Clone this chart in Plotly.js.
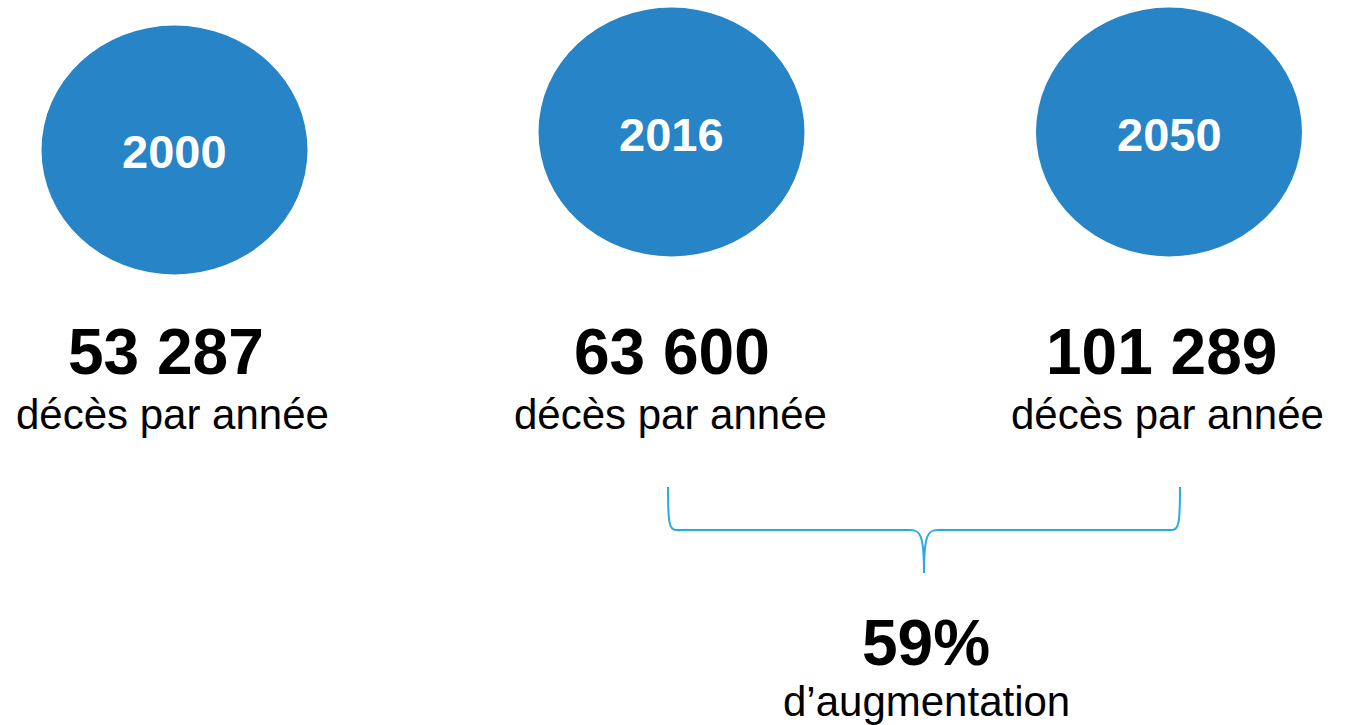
<!DOCTYPE html>
<html>
<head>
<meta charset="utf-8">
<script src="https://cdn.plot.ly/plotly-3.0.1.min.js"></script>
<style>
  html, body { margin: 0; padding: 0; background: #ffffff; }
  #chart { width: 1348px; height: 725px; }
</style>
</head>
<body>
<div id="chart"></div>
<script>
// ---- data ----
const years = ['2000', '2016', '2050'];
const deaths = [53287, 63600, 101289];
const unitLabel = 'décès par année';
const increasePct = 59;
const increaseLabel = 'd\u2019augmentation';

// ---- layout constants (positions in pixel space) ----
const W = 1348, H = 725;
const circleX = [174.5, 671.5, 1169];
const circleY = [150, 132, 132];
const rx = 133, ry = 124.5;
const yearTextY = [151, 134, 134];
const numX = [166, 672, 1161];
const subX = [172, 670, 1167];
const numY = 352, subY = 414;
const braceL = 668, braceR = 1180, braceTop = 487, braceMid = 530, braceTip = 573;
const pctY = 643, pctSubY = 701, pctX = 926;

const FONT = 'Liberation Sans, Arial, Helvetica, sans-serif';
const BLUE = '#2784C7';
const BRACE = '#29ABE2';

function fmt(n) {
  return String(n).replace(/\B(?=(\d{3})+(?!\d))/g, ' ');
}

const shapes = [];
const annotations = [];

years.forEach((yr, i) => {
  shapes.push({
    type: 'circle', xref: 'x', yref: 'y',
    x0: circleX[i] - rx, x1: circleX[i] + rx,
    y0: circleY[i] - ry, y1: circleY[i] + ry,
    fillcolor: BLUE, line: { width: 0 }, layer: 'below'
  });
  annotations.push({
    x: circleX[i], y: yearTextY[i], xref: 'x', yref: 'y',
    text: '<b>' + yr + '</b>', showarrow: false,
    xanchor: 'center', yanchor: 'middle',
    font: { family: FONT, size: 47, color: '#ffffff' }
  });
  annotations.push({
    x: numX[i], y: numY, xref: 'x', yref: 'y',
    text: '<b>' + fmt(deaths[i]) + '</b>', showarrow: false,
    xanchor: 'center', yanchor: 'middle',
    font: { family: FONT, size: 64, color: '#000000' }
  });
  annotations.push({
    x: subX[i], y: subY, xref: 'x', yref: 'y',
    text: unitLabel, showarrow: false,
    xanchor: 'center', yanchor: 'middle',
    font: { family: FONT, size: 42, color: '#000000' }
  });
});

// curly brace spanning 2016 -> 2050
const bc = (braceL + braceR) / 2;
const bracePath =
  'M ' + braceL + ' ' + braceTop +
  ' C ' + braceL + ' ' + (braceMid - 8) + ', ' + (braceL + 1) + ' ' + braceMid + ', ' + (braceL + 8) + ' ' + braceMid +
  ' L ' + (bc - 14) + ' ' + braceMid +
  ' C ' + (bc - 4) + ' ' + braceMid + ', ' + bc + ' ' + (braceMid + 4) + ', ' + bc + ' ' + braceTip +
  ' C ' + bc + ' ' + (braceMid + 4) + ', ' + (bc + 4) + ' ' + braceMid + ', ' + (bc + 14) + ' ' + braceMid +
  ' L ' + (braceR - 8) + ' ' + braceMid +
  ' C ' + (braceR - 1) + ' ' + braceMid + ', ' + braceR + ' ' + (braceMid - 8) + ', ' + braceR + ' ' + braceTop;
shapes.push({
  type: 'path', xref: 'x', yref: 'y', path: bracePath,
  line: { color: BRACE, width: 2 }
});

annotations.push({
  x: pctX, y: pctY, xref: 'x', yref: 'y',
  text: '<b>' + increasePct + '%</b>', showarrow: false,
  xanchor: 'center', yanchor: 'middle',
  font: { family: FONT, size: 64, color: '#000000' }
});
annotations.push({
  x: pctX, y: pctSubY, xref: 'x', yref: 'y',
  text: increaseLabel, showarrow: false,
  xanchor: 'center', yanchor: 'middle',
  font: { family: FONT, size: 42, color: '#000000' }
});

const layout = {
  width: W, height: H,
  margin: { l: 0, r: 0, t: 0, b: 0, pad: 0 },
  paper_bgcolor: '#ffffff', plot_bgcolor: '#ffffff',
  showlegend: false,
  xaxis: { range: [0, W], visible: false, fixedrange: true },
  yaxis: { range: [H, 0], visible: false, fixedrange: true },
  shapes: shapes,
  annotations: annotations
};

Plotly.newPlot('chart', [], layout, { displayModeBar: false, staticPlot: true });
</script>
</body>
</html>
